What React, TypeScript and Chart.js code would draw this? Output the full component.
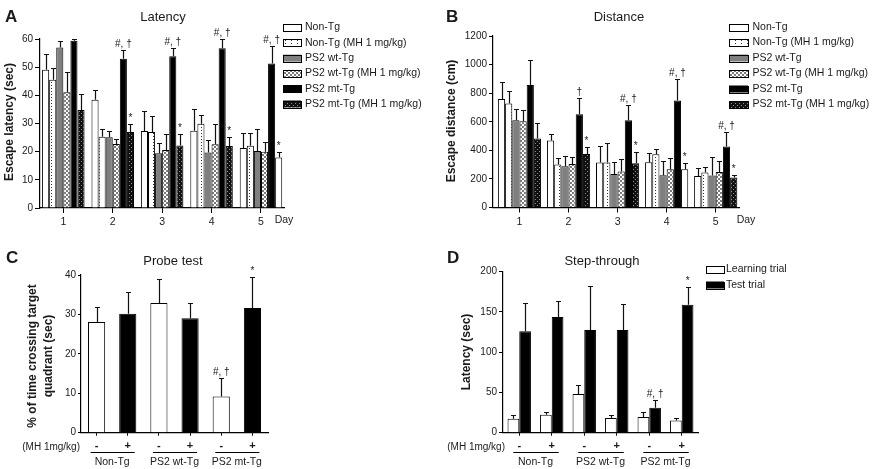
import React, { useEffect, useRef } from 'react';
import { Chart, registerables } from 'chart.js';

Chart.register(...registerables);

const FONT = '"Liberation Sans", Arial, Helvetica, sans-serif';
const TXT = '#1a1a1a';

// ---------- shared
const days = [1, 2, 3, 4, 5];
const seriesNames = [
  'Non-Tg',
  'Non-Tg (MH 1 mg/kg)',
  'PS2 wt-Tg',
  'PS2 wt-Tg (MH 1 mg/kg)',
  'PS2 mt-Tg',
  'PS2 mt-Tg (MH 1 mg/kg)',
];

// ---------- Panel A: Latency (sec)
const latencyTicks = [0, 10, 20, 30, 40, 50, 60];
const latencyNonTg = [49.1, 38.4, 27.3, 27.4, 21.3];
const latencyNonTgSem = [5.5, 3.4, 7.2, 7.6, 5.4];
const latencyNonTgMH = [45.5, 25.3, 27.0, 29.9, 22.1];
const latencyNonTgMHSem = [4.2, 2.9, 5.8, 3.2, 4.4];
const latencyWt = [57.0, 25.1, 19.4, 19.7, 20.2];
const latencyWtSem = [2.2, 2.2, 3.5, 4.3, 7.7];
const latencyWtMH = [41.1, 22.7, 20.6, 22.6, 20.0];
const latencyWtMHSem = [7.1, 1.7, 5.7, 7.2, 3.4];
const latencyMt = [59.4, 53.0, 53.9, 56.7, 51.3];
const latencyMtSem = [0.6, 3.2, 3.0, 3.4, 6.3];
const latencyMtMH = [34.8, 27.0, 22.2, 22.0, 17.9];
const latencyMtMHSem = [5.7, 2.8, 4.1, 3.3, 2.1];
const latencyMtMarks = ['', '#, †', '#, †', '#, †', '#, †'];
const latencyMtMHMarks = ['', '*', '*', '*', '*'];

// ---------- Panel B: Distance (cm)
const distanceTicks = [0, 200, 400, 600, 800, 1000, 1200];
const distanceNonTg = [760, 468, 315, 317, 221];
const distanceNonTgSem = [120, 47, 116, 67, 54];
const distanceNonTgMH = [728, 301, 315, 373, 245];
const distanceNonTgMHSem = [86, 47, 135, 35, 37];
const distanceWt = [610, 289, 235, 226, 224];
const distanceWtSem = [80, 72, 80, 100, 132];
const distanceWtMH = [603, 305, 252, 268, 249];
const distanceWtMHSem = [80, 45, 86, 75, 75];
const distanceMt = [858, 652, 610, 748, 426];
const distanceMtSem = [172, 117, 105, 152, 103];
const distanceMtMH = [482, 374, 310, 268, 210];
const distanceMtMHSem = [107, 50, 77, 42, 14];
const distanceMtMarks = ['', '†', '#, †', '#, †', '#, †'];
const distanceMtMHMarks = ['', '*', '*', '*', '*'];

// ---------- Panel C: Probe test
const probeTicks = [0, 10, 20, 30, 40];
const treatmentLabels = ['-', '+', '-', '+', '-', '+'];
const genotypeLabels = ['Non-Tg', 'PS2 wt-Tg', 'PS2 mt-Tg'];
const probeValues = [28.1, 30.2, 32.9, 29.0, 9.2, 31.6];
const probeSem = [3.9, 5.4, 6.1, 3.9, 4.6, 8.0];
const probeMarks = ['', '', '', '', '#, †', '*'];

// ---------- Panel D: Step-through
const stepTicks = [0, 50, 100, 150, 200];
const stepSeries = ['Learning trial', 'Test trial'];
const stepLearning = [17.4, 22.4, 48.0, 18.2, 19.5, 15.3];
const stepLearningSem = [4.5, 3.7, 11.2, 3.3, 6.6, 3.3];
const stepTest = [125.9, 143.7, 127.5, 127.5, 31.1, 159.0];
const stepTestSem = [35.6, 20.3, 55.1, 32.3, 9.1, 22.0];
const stepTestMarks = ['', '', '', '', '#, †', '*'];

// ---------- helpers
function makePattern(w: number, h: number, bg: string, fg: string, rects: number[][]) {
  const c = document.createElement('canvas');
  c.width = w;
  c.height = h;
  const g = c.getContext('2d')!;
  g.fillStyle = bg;
  g.fillRect(0, 0, w, h);
  g.fillStyle = fg;
  rects.forEach((r) => g.fillRect(r[0], r[1], r[2], r[3]));
  return g.createPattern(c, 'repeat')!;
}

function txt(ctx: CanvasRenderingContext2D, s: string, x: number, y: number, font: string, align: CanvasTextAlign = 'center', baseline: CanvasTextBaseline = 'middle') {
  ctx.font = font;
  ctx.fillStyle = TXT;
  ctx.textAlign = align;
  ctx.textBaseline = baseline;
  ctx.fillText(s, x, y);
}

function vtxt(ctx: CanvasRenderingContext2D, s: string, x: number, y: number, font: string) {
  ctx.save();
  ctx.translate(x, y);
  ctx.rotate(-Math.PI / 2);
  txt(ctx, s, 0, 0, font);
  ctx.restore();
}

function legend(ctx: CanvasRenderingContext2D, names: string[], fills: any[], bx: number, y0: number, step: number, bw: number, bh: number, tx: number) {
  names.forEach((n, i) => {
    const y = y0 + i * step;
    ctx.fillStyle = fills[i];
    ctx.fillRect(bx, y - bh / 2, bw, bh);
    ctx.strokeStyle = '#000';
    ctx.lineWidth = 1;
    ctx.strokeRect(Math.round(bx) + 0.5, Math.round(y - bh / 2) + 0.5, bw, bh);
    txt(ctx, n, tx, y, `10.5px ${FONT}`, 'left', 'middle');
  });
}

const errorBarPlugin = {
  id: 'errbars',
  afterDatasetsDraw(chart: any) {
    const ctx = chart.ctx as CanvasRenderingContext2D;
    const ys = chart.scales.y;
    ctx.save();
    chart.data.datasets.forEach((ds: any, i: number) => {
      if (!ds.sem) return;
      const meta = chart.getDatasetMeta(i);
      meta.data.forEach((el: any, j: number) => {
        const raw = ds.data[j];
        const v = typeof raw === 'number' ? raw : raw.y;
        const top = ys.getPixelForValue(v + ds.sem[j]);
        const x = Math.round(el.x) + 0.5;
        const yt = Math.round(top) + 0.5;
        ctx.strokeStyle = '#111';
        ctx.lineWidth = 1.2;
        ctx.beginPath();
        ctx.moveTo(x, el.y);
        ctx.lineTo(x, yt);
        ctx.moveTo(x - 2.5, yt);
        ctx.lineTo(x + 2.5, yt);
        ctx.stroke();
        if (ds.marks && ds.marks[j]) {
          txt(ctx, ds.marks[j], el.x, top - 3, `10px ${FONT}`, 'center', 'alphabetic');
        }
      });
    });
    ctx.restore();
  },
};

function overlay(id: string, ox: number, oy: number, draw: (ctx: CanvasRenderingContext2D, chart: any) => void) {
  return {
    id,
    afterDraw(chart: any) {
      const ctx = chart.ctx as CanvasRenderingContext2D;
      ctx.save();
      ctx.translate(-ox, -oy);
      draw(ctx, chart);
      ctx.restore();
    },
  };
}

function yAxis(min: number, max: number, ticks: number[], width: number, tickLength: number, padding: number) {
  return {
    type: 'linear',
    min,
    max,
    afterBuildTicks: (s: any) => {
      s.ticks = ticks.map((v) => ({ value: v }));
    },
    afterFit: (s: any) => {
      s.width = width;
    },
    ticks: { color: TXT, font: { family: FONT, size: 10 }, padding, callback: (v: any) => String(v) },
    grid: { display: true, drawOnChartArea: false, drawTicks: true, tickLength, color: '#000', lineWidth: 1 },
    border: { display: true, color: '#000', width: 1.2 },
  };
}

function dayAxis(min: number, max: number, height: number) {
  return {
    type: 'linear',
    offset: false,
    min,
    max,
    afterBuildTicks: (s: any) => {
      s.ticks = days.map((v) => ({ value: v }));
    },
    afterFit: (s: any) => {
      s.height = height;
    },
    ticks: { color: TXT, font: { family: FONT, size: 10.5 }, padding: 3, callback: (v: any) => String(v) },
    grid: { display: true, offset: false, drawOnChartArea: false, drawTicks: true, tickLength: 5, color: '#000', lineWidth: 1 },
    border: { display: true, color: '#000', width: 1.2 },
  };
}

function catAxis(height: number) {
  return {
    type: 'category',
    afterFit: (s: any) => {
      s.height = height;
    },
    ticks: { color: TXT, font: { family: FONT, size: 11, weight: 'bold' }, padding: 4 },
    grid: { display: true, offset: false, drawOnChartArea: false, drawTicks: true, tickLength: 3, color: '#000', lineWidth: 1 },
    border: { display: true, color: '#000', width: 1.2 },
  };
}

function baseOptions(padding: any) {
  return {
    responsive: false,
    animation: false,
    events: [],
    layout: { padding },
    plugins: { legend: { display: false }, tooltip: { enabled: false }, title: { display: false } },
  };
}

export default function App() {
  const refA = useRef<HTMLCanvasElement>(null);
  const refB = useRef<HTMLCanvasElement>(null);
  const refC = useRef<HTMLCanvasElement>(null);
  const refD = useRef<HTMLCanvasElement>(null);

  useEffect(() => {
    const dotted = makePattern(6, 3, '#ffffff', '#333333', [[3, 1, 1, 1]]);
    const checker = makePattern(4, 4, '#ffffff', '#7a7a7a', [[0, 0, 2, 2], [2, 2, 2, 2]]);
    const dark = makePattern(4, 4, '#111111', '#8c8c8c', [[1, 1, 1, 1], [3, 3, 1, 1]]);
    const fills = ['#ffffff', dotted, '#7f7f7f', checker, '#000000', dark];

    const pts = (arr: number[]) => days.map((d, i) => ({ x: d, y: arr[i] }));
    const barDs = (label: string, data: number[], sem: number[], bg: any, marks?: string[]) => ({
      label,
      data: pts(data),
      sem,
      marks,
      backgroundColor: bg,
      borderColor: '#000',
      borderWidth: 1,
    });

    // ---- A
    const cfgA: any = {
      type: 'bar',
      data: {
        datasets: [
          barDs(seriesNames[0], latencyNonTg, latencyNonTgSem, fills[0]),
          barDs(seriesNames[1], latencyNonTgMH, latencyNonTgMHSem, fills[1]),
          barDs(seriesNames[2], latencyWt, latencyWtSem, fills[2]),
          barDs(seriesNames[3], latencyWtMH, latencyWtMHSem, fills[3]),
          barDs(seriesNames[4], latencyMt, latencyMtSem, fills[4], latencyMtMarks),
          barDs(seriesNames[5], latencyMtMH, latencyMtMHSem, days.map((_, i) => (i === 4 ? '#ffffff' : dark)), latencyMtMHMarks),
        ],
      },
      options: {
        ...baseOptions({ left: 0, right: 152, top: 39, bottom: 0 }),
        datasets: { bar: { categoryPercentage: 0.86, barPercentage: 1 } },
        scales: { x: dayAxis(0.528, 5.466, 27), y: yAxis(0, 60, latencyTicks, 40, 5, 2) },
      },
      plugins: [
        errorBarPlugin,
        overlay('txtA', 0, 0, (ctx) => {
          txt(ctx, 'A', 5, 22, `bold 17px ${FONT}`, 'left', 'alphabetic');
          txt(ctx, 'Latency', 163, 17, `13px ${FONT}`);
          vtxt(ctx, 'Escape latency (sec)', 10, 122, `bold 12px ${FONT}`);
          txt(ctx, 'Day', 284, 220, `10.5px ${FONT}`);
          legend(ctx, seriesNames, fills, 283, 27.5, 15.3, 18, 7, 305);
        }),
      ],
    };

    // ---- B
    const cfgB: any = {
      type: 'bar',
      data: {
        datasets: [
          barDs(seriesNames[0], distanceNonTg, distanceNonTgSem, fills[0]),
          barDs(seriesNames[1], distanceNonTgMH, distanceNonTgMHSem, fills[1]),
          barDs(seriesNames[2], distanceWt, distanceWtSem, fills[2]),
          barDs(seriesNames[3], distanceWtMH, distanceWtMHSem, fills[3]),
          barDs(seriesNames[4], distanceMt, distanceMtSem, fills[4], distanceMtMarks),
          barDs(seriesNames[5], distanceMtMH, distanceMtMHSem, days.map((_, i) => (i === 3 ? '#ffffff' : dark)), distanceMtMHMarks),
        ],
      },
      options: {
        ...baseOptions({ left: 0, right: 133, top: 36, bottom: 0 }),
        datasets: { bar: { categoryPercentage: 0.88, barPercentage: 1 } },
        scales: { x: dayAxis(0.46, 5.475, 27.5), y: yAxis(0, 1200, distanceTicks, 57, 4, 2) },
      },
      plugins: [
        errorBarPlugin,
        overlay('txtB', 436, 0, (ctx) => {
          txt(ctx, 'B', 446, 22, `bold 17px ${FONT}`, 'left', 'alphabetic');
          txt(ctx, 'Distance', 619, 17, `13px ${FONT}`);
          vtxt(ctx, 'Escape distance (cm)', 452, 121, `bold 12px ${FONT}`);
          txt(ctx, 'Day', 746, 220, `10.5px ${FONT}`);
          legend(ctx, seriesNames, fills, 729, 27, 15.5, 19, 7, 752.5);
        }),
      ],
    };

    // ---- C
    const groupDecor = (ctx: CanvasRenderingContext2D, chart: any, ox: number, labelRight: number) => {
      const xs = chart.scales.x;
      txt(ctx, '(MH 1mg/kg)', labelRight, 447, `10px ${FONT}`, 'right');
      genotypeLabels.forEach((g, k) => {
        const c1 = xs.getPixelForValue(2 * k) + ox;
        const c2 = xs.getPixelForValue(2 * k + 1) + ox;
        ctx.strokeStyle = '#000';
        ctx.lineWidth = 1;
        ctx.beginPath();
        ctx.moveTo(c1 - 6, 452.5);
        ctx.lineTo(c2 + 7, 452.5);
        ctx.stroke();
        txt(ctx, g, (c1 + c2) / 2, 462, `10.5px ${FONT}`);
      });
    };

    const cfgC: any = {
      type: 'bar',
      data: {
        labels: treatmentLabels,
        datasets: [
          {
            label: 'Probe test',
            data: probeValues,
            sem: probeSem,
            marks: probeMarks,
            backgroundColor: treatmentLabels.map((_, i) => (i % 2 === 0 ? '#ffffff' : '#000000')),
            borderColor: '#000',
            borderWidth: 1,
            categoryPercentage: 1,
            barPercentage: 0.55,
          },
        ],
      },
      options: {
        ...baseOptions({ left: 0, right: 168, top: 40, bottom: 0 }),
        scales: { x: catAxis(36.3), y: yAxis(0, 40, probeTicks, 81, 3, 2) },
      },
      plugins: [
        errorBarPlugin,
        overlay('txtC', 0, 235, (ctx, chart) => {
          txt(ctx, 'C', 6, 263, `bold 17px ${FONT}`, 'left', 'alphabetic');
          txt(ctx, 'Probe test', 173, 261, `13px ${FONT}`);
          vtxt(ctx, '% of time crossing target', 33, 356, `bold 12px ${FONT}`);
          vtxt(ctx, 'quadrant (sec)', 49, 356, `bold 12px ${FONT}`);
          groupDecor(ctx, chart, 0, 80);
        }),
      ],
    };

    // ---- D
    const cfgD: any = {
      type: 'bar',
      data: {
        labels: treatmentLabels,
        datasets: [
          { label: stepSeries[0], data: stepLearning, sem: stepLearningSem, backgroundColor: '#ffffff', borderColor: '#000', borderWidth: 1 },
          { label: stepSeries[1], data: stepTest, sem: stepTestSem, marks: stepTestMarks, backgroundColor: '#000000', borderColor: '#000', borderWidth: 1 },
        ],
      },
      options: {
        ...baseOptions({ left: 0, right: 174, top: 36.7, bottom: 0 }),
        datasets: { bar: { categoryPercentage: 0.72, barPercentage: 1 } },
        scales: { x: catAxis(36.3), y: yAxis(0, 200, stepTicks, 67, 4, 2) },
      },
      plugins: [
        errorBarPlugin,
        overlay('txtD', 436, 235, (ctx, chart) => {
          txt(ctx, 'D', 447, 263, `bold 17px ${FONT}`, 'left', 'alphabetic');
          txt(ctx, 'Step-through', 602, 261, `13px ${FONT}`);
          vtxt(ctx, 'Latency (sec)', 467, 352, `bold 12px ${FONT}`);
          groupDecor(ctx, chart, 436, 505);
          legend(ctx, stepSeries, ['#ffffff', '#000000'], 706, 269, 16, 18, 7, 726);
        }),
      ],
    };

    const charts = [
      new Chart(refA.current!, cfgA),
      new Chart(refB.current!, cfgB),
      new Chart(refC.current!, cfgC),
      new Chart(refD.current!, cfgD),
    ];
    return () => charts.forEach((c) => c.destroy());
  }, []);

  const cv = (left: number, top: number, w: number, h: number) => ({
    position: 'absolute' as const,
    left,
    top,
    width: w,
    height: h,
  });

  return (
    <div style={{ position: 'fixed', left: 0, top: 0, width: 872, height: 469, background: '#fff', overflow: 'hidden' }}>
      <canvas ref={refA} width={436} height={235} style={cv(0, 0, 436, 235)} />
      <canvas ref={refB} width={436} height={235} style={cv(436, 0, 436, 235)} />
      <canvas ref={refC} width={436} height={234} style={cv(0, 235, 436, 234)} />
      <canvas ref={refD} width={436} height={234} style={cv(436, 235, 436, 234)} />
    </div>
  );
}
